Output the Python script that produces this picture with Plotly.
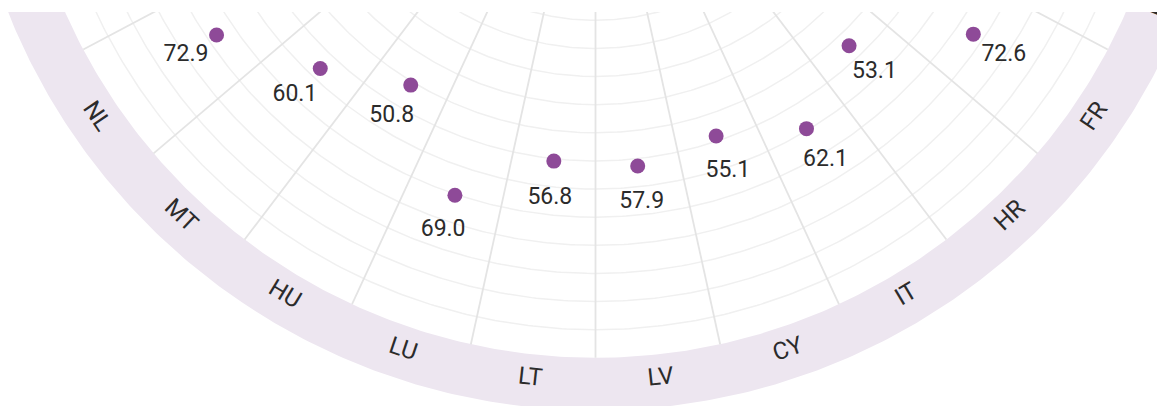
import numpy as np
import plotly.graph_objects as go

# ---- data ----
countries = ["FR", "HR", "IT", "CY", "LV", "LT", "LU", "HU", "MT", "NL"]
values = [72.6, 53.1, 62.1, 55.1, 57.9, 56.8, 69.0, 50.8, 60.1, 72.9]
ring_labels = ["ES", "FR", "HR", "IT", "CY", "LV", "LT", "LU", "HU", "MT", "NL"]
radial_grid = [0, 6.25, 12.5, 18.75, 25, 31.25, 37.5, 43.75, 50,
               56.25, 62.5, 68.75, 75, 81.25, 87.5, 93.75]

# ---- geometry / style ----
N_SECTORS = 29
DELTA = 360.0 / N_SECTORS
HOLE = 28.84            # radial offset of value 0 (in value units)
PX = 4.5                # pixels per value unit
W, H = 1157, 398        # page body has an 8px margin
CX_PX, CY_PX = 587.5, -230.0
RING_IN, RING_OUT = 100.0, 111.7
LABEL_R = 104.5
TEXT_OFF = 8.2
TOP_STRIP = 4

PURPLE = "#8e4a98"
RING = "#ede6f0"
TXT = "#2b2b2b"


def to_xy(theta_deg, v):
    t = np.deg2rad(np.asarray(theta_deg, dtype=float))
    rr = HOLE + np.asarray(v, dtype=float)
    return rr * np.sin(t), -rr * np.cos(t)


xmin, xmax = -CX_PX / PX, (W - CX_PX) / PX
ymax, ymin = CY_PX / PX, (CY_PX - H) / PX

theta_c = [(4.5 - i) * DELTA for i in range(len(countries))]
theta_l = [(5.5 - j) * DELTA for j in range(len(ring_labels))]

fig = go.Figure()

# outer ring band
circ = np.linspace(0, 360, 721)
ox, oy = to_xy(circ, np.full_like(circ, RING_OUT))
ix, iy = to_xy(circ[::-1], np.full_like(circ, RING_IN))
fig.add_trace(go.Scatter(x=np.concatenate([ox, ix]), y=np.concatenate([oy, iy]),
                         fill="toself", fillcolor=RING, mode="lines",
                         line=dict(width=0, color=RING), hoverinfo="skip"))

# concentric grid arcs
gx, gy = [], []
for g in radial_grid:
    ax_, ay_ = to_xy(circ, np.full_like(circ, g))
    gx += list(ax_) + [None]
    gy += list(ay_) + [None]
fig.add_trace(go.Scatter(x=gx, y=gy, mode="lines",
                         line=dict(color="#f0f0f0", width=1.5), hoverinfo="skip"))

# radial sector boundaries
rx, ry = [], []
for k in range(N_SECTORS):
    th = k * DELTA
    x0, y0 = to_xy(th, 0)
    x1, y1 = to_xy(th, RING_IN)
    rx += [float(x0), float(x1), None]
    ry += [float(y0), float(y1), None]
fig.add_trace(go.Scatter(x=rx, y=ry, mode="lines",
                         line=dict(color="#e4e4e4", width=1.8), hoverinfo="skip"))

# data points
px_, py_ = to_xy(theta_c, values)
fig.add_trace(go.Scatter(x=px_, y=py_, mode="markers",
                         marker=dict(size=15, color=PURPLE), hoverinfo="skip"))

# value labels (pushed radially outward)
tx, ty = to_xy(theta_c, np.asarray(values) + TEXT_OFF)
fig.add_trace(go.Scatter(x=tx, y=ty, mode="text",
                         text=[f"{v:.1f}" for v in values],
                         textposition="middle center",
                         textfont=dict(family="Roboto", size=23, color=TXT),
                         hoverinfo="skip"))

# ring labels, rotated tangentially (shape labels are clipped to the plot area)
shapes = []
lx, ly = to_xy(theta_l, np.full(len(theta_l), LABEL_R))
eps = 0.01
for lab, th, x, y in zip(ring_labels, theta_l, lx, ly):
    shapes.append(dict(type="rect", xref="x", yref="y",
                       x0=float(x) - eps, x1=float(x) + eps,
                       y0=float(y) - eps, y1=float(y) + eps,
                       line=dict(width=0), fillcolor="rgba(0,0,0,0)",
                       layer="above",
                       label=dict(text=lab, textangle=-th,
                                  textposition="middle center",
                                  font=dict(family="Roboto", size=24, color=TXT))))
# white strip at the top (container crop)
shapes.append(dict(type="rect", xref="paper", yref="paper", x0=0, x1=1,
                   y0=1 - TOP_STRIP / H, y1=1, fillcolor="white",
                   line=dict(width=0), layer="above"))

fig.update_layout(
    width=W, height=H,
    margin=dict(l=0, r=0, t=0, b=0),
    paper_bgcolor="white", plot_bgcolor="white",
    showlegend=False,
    xaxis=dict(range=[xmin, xmax], visible=False, fixedrange=True),
    yaxis=dict(range=[ymin, ymax], visible=False, fixedrange=True),
    shapes=shapes,
)

fig.write_html("out.html")
